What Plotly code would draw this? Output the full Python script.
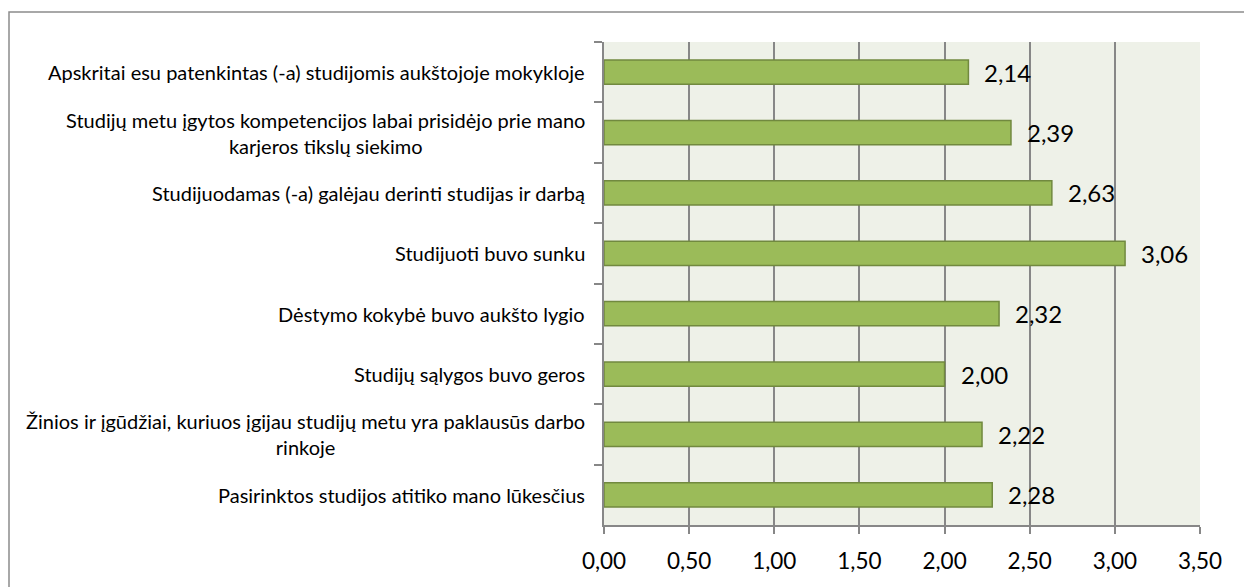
import plotly.graph_objects as go

categories = [
    "Apskritai esu patenkintas (-a) studijomis aukštojoje mokykloje",
    "Studijų metu įgytos kompetencijos labai prisidėjo prie mano<br>karjeros tikslų siekimo",
    "Studijuodamas (-a) galėjau derinti studijas ir darbą",
    "Studijuoti buvo sunku",
    "Dėstymo kokybė buvo aukšto lygio",
    "Studijų sąlygos buvo geros",
    "Žinios ir įgūdžiai, kuriuos įgijau studijų metu yra paklausūs darbo<br>rinkoje",
    "Pasirinktos studijos atitiko mano lūkesčius",
]
values = [2.14, 2.39, 2.63, 3.06, 2.32, 2.00, 2.22, 2.28]
x_ticks = [0.0, 0.5, 1.0, 1.5, 2.0, 2.5, 3.0, 3.5]

FONT = "Lato"
GRID = "#878787"

W, H = 1244, 587
L, R, T, B = 604, 44, 42, 62
pw, ph = W - L - R, H - T - B

fig = go.Figure()
fig.add_trace(go.Bar(
    x=values, y=categories, orientation="h",
    marker=dict(color="#9BBB59", line=dict(color="#71893F", width=1.5)),
    hoverinfo="x+y",
))

annotations = []
for c, v in zip(categories, values):
    annotations.append(dict(
        x=v, y=c, xref="x", yref="y", xanchor="left", yanchor="middle",
        xshift=14, text=f"{v:.2f}".replace(".", ","), showarrow=False,
        font=dict(family=FONT, size=24, color="#000000"),
    ))
    annotations.append(dict(
        x=0, y=c, xref="paper", yref="y", xanchor="right", yanchor="middle",
        xshift=-17, text=c, showarrow=False, align="center",
        font=dict(family=FONT, size=20, color="#000000"),
    ))

def px_x(p):
    return (p - L) / pw

def px_y(p):
    return (H - B - p) / ph

fig.add_shape(type="rect", xref="paper", yref="paper",
              x0=px_x(9), x1=px_x(1260), y0=px_y(600), y1=px_y(12),
              line=dict(color="#8C8C8C", width=1.5), layer="below")

fig.update_layout(
    width=W, height=H,
    margin=dict(l=L, r=R, t=T, b=B),
    paper_bgcolor="#FFFFFF",
    plot_bgcolor="#EEF1E8",
    separators=", ",
    bargap=0.6,
    showlegend=False,
    annotations=annotations,
    font=dict(family=FONT, color="#000000"),
    xaxis=dict(
        range=[0, 3.5], tickvals=x_ticks, tickformat=".2f",
        showgrid=True, gridcolor=GRID, gridwidth=1.5,
        showline=True, linecolor=GRID, linewidth=1.5,
        ticks="outside", ticklen=7, tickcolor=GRID, tickwidth=1.5,
        ticklabelstandoff=8,
        tickfont=dict(family=FONT, size=22.5, color="#000000"),
        zeroline=False, fixedrange=True,
    ),
    yaxis=dict(
        autorange="reversed", showticklabels=False,
        showgrid=False, showline=True, linecolor=GRID, linewidth=1.5,
        ticks="outside", ticklen=8, tickcolor=GRID, tickwidth=1.5,
        tickson="boundaries", zeroline=False, fixedrange=True,
    ),
)

fig.write_html("out.html", config={"displayModeBar": False},
               post_script="document.body.style.margin='0';document.body.style.overflow='hidden';")
